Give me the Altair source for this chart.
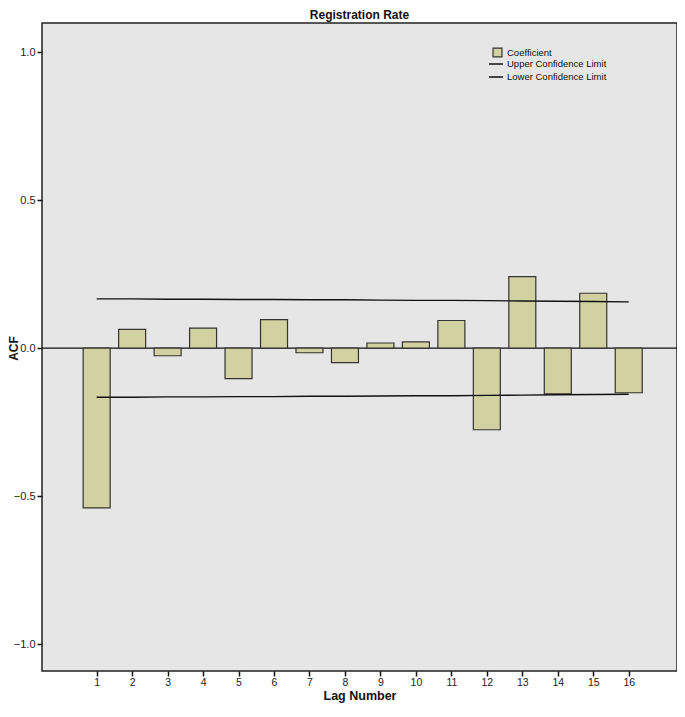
import altair as alt
import pandas as pd

lags = list(range(1, 17))
acf = [-0.54, 0.063, -0.026, 0.067, -0.103, 0.096, -0.016, -0.049,
       0.017, 0.021, 0.093, -0.276, 0.241, -0.155, 0.185, -0.151]
upper = [0.166, 0.166, 0.165, 0.165, 0.164, 0.164, 0.163, 0.163,
         0.162, 0.161, 0.161, 0.160, 0.159, 0.158, 0.157, 0.156]
lower = [-0.166, -0.166, -0.165, -0.165, -0.164, -0.164, -0.163, -0.163,
         -0.162, -0.161, -0.161, -0.160, -0.159, -0.158, -0.157, -0.156]

bars_df = pd.DataFrame({"lag": lags, "acf": acf, "series": "Coefficient"})
lim_df = pd.DataFrame({
    "lag": lags * 2,
    "value": upper + lower,
    "series": ["Upper Confidence Limit"] * 16 + ["Lower Confidence Limit"] * 16,
})

FONT = "Liberation Sans"
xscale = alt.Scale(domain=[-0.4, 17.22], nice=False, zero=False)
yscale = alt.Scale(domain=[-1.091, 1.098], nice=False, zero=False)

xaxis = alt.Axis(values=lags, title="Lag Number", tickSize=5, grid=False, domain=False,
                 labelFontSize=10.5, labelColor="#222", tickColor="#111", tickWidth=1.5,
                 titleFontSize=12.5, titleFontWeight="bold", titleColor="#111",
                 titlePadding=2, labelPadding=1, labelFont=FONT, titleFont=FONT)
yaxis = alt.Axis(values=[-1.0, -0.5, 0.0, 0.5, 1.0], format=".1f", title="ACF", tickSize=5,
                 grid=False, domain=False, labelFontSize=11, labelColor="#222",
                 tickColor="#111", tickWidth=1.5, titleFontSize=12, titleFontWeight="bold",
                 titleColor="#111", titleX=-22, titleY=325, labelPadding=2,
                 labelFont=FONT, titleFont=FONT)

bars = alt.Chart(bars_df).mark_bar(width=27, stroke="#333", strokeWidth=1.2).encode(
    x=alt.X("lag:Q", scale=xscale, axis=xaxis),
    y=alt.Y("acf:Q", scale=yscale, axis=yaxis),
    y2=alt.datum(0),
    fill=alt.Fill("series:N", scale=alt.Scale(domain=["Coefficient"], range=["#d1d1a1"]),
                  legend=alt.Legend(title=None, orient="none", legendX=450, legendY=24,
                                    symbolType="square", symbolSize=80,
                                    symbolStrokeColor="#333", symbolStrokeWidth=1.2,
                                    labelFontSize=9.5, labelFont=FONT, labelColor="#111",
                                    labelOffset=4)),
)

zero = alt.Chart(pd.DataFrame({"z": [0.0]})).mark_rule(color="#111", strokeWidth=1.3).encode(
    y=alt.Y("z:Q", scale=yscale),
)

limits = alt.Chart(lim_df).mark_line(strokeWidth=1.4).encode(
    x=alt.X("lag:Q", scale=xscale),
    y=alt.Y("value:Q", scale=yscale),
    stroke=alt.Stroke("series:N",
                      scale=alt.Scale(domain=["Upper Confidence Limit", "Lower Confidence Limit"],
                                      range=["#111", "#111"]),
                      sort=["Upper Confidence Limit", "Lower Confidence Limit"],
                      legend=alt.Legend(title=None, orient="none", legendX=446, legendY=33,
                                        symbolType="stroke", symbolSize=196, symbolStrokeWidth=1.5,
                                        labelFontSize=9.5, labelFont=FONT, labelColor="#111",
                                        rowPadding=-3, labelOffset=3)),
    detail="series:N",
)

chart = alt.layer(zero, bars, limits).resolve_scale(fill="independent", stroke="independent").properties(
    width=635, height=648,
    autosize="none",
    padding={"left": 34, "top": 15, "right": 0, "bottom": 33},
    background="white",
    title=alt.TitleParams("Registration Rate", fontSize=12, font=FONT, fontWeight="bold",
                          color="#111", offset=1, anchor="middle"),
).configure_view(fill="#e6e6e6", stroke="#222", strokeWidth=1.5)

chart.save("out.html", embed_options={"renderer": "svg", "actions": False})
